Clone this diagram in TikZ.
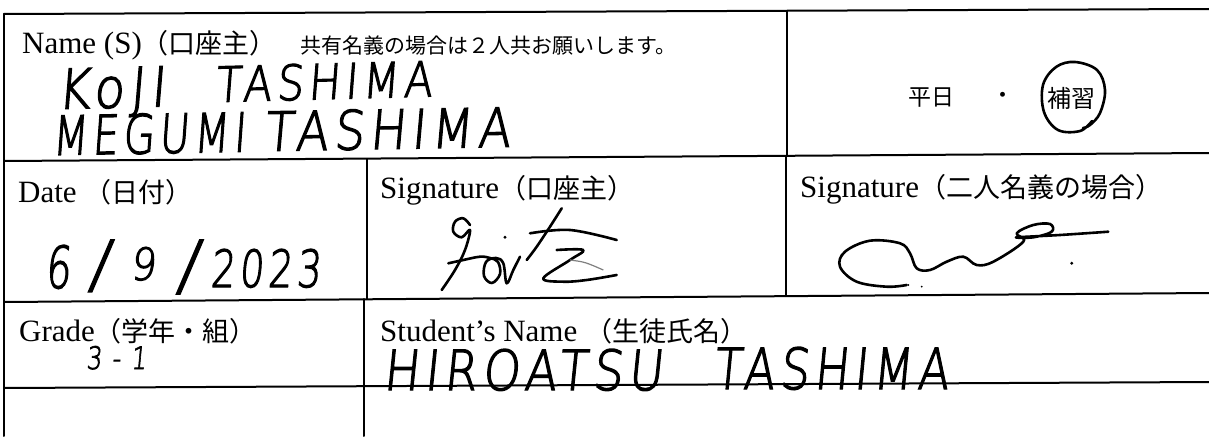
\documentclass[tikz,border=0pt]{standalone}
\usepackage{fontspec}
\usepackage{graphicx}
\setmainfont{Liberation Serif}
\newfontfamily\jp{Noto Sans CJK JP}
\newfontfamily\hand{DejaVu Sans ExtraLight}[FakeSlant=0.12, FakeBold=2.5, LetterSpace=12]
\newcommand\jpl{\jp\fontsize{27}{27}\selectfont}
\begin{document}
\begin{tikzpicture}[x=1pt,y=-1pt,
  rule/.style={line width=2pt, line cap=round},
  lbl/.style={anchor=base west, inner sep=0pt, font=\fontsize{31}{31}\selectfont},
  hw/.style={anchor=base west, inner sep=0pt},
  ink/.style={line width=2.6pt, line cap=round, line join=round}]
\useasboundingbox (0,0) rectangle (1209,436);
\fill[white] (0,0) rectangle (1209,436);
% grid
\coordinate (TL) at (4,14);   \coordinate (TR) at (1209,9);
\coordinate (AL) at (4,161);  \coordinate (AR) at (1209,153);
\coordinate (BL) at (4,302);  \coordinate (BR) at (1209,293);
\coordinate (CL) at (4,388);  \coordinate (CR) at (1209,382);
\coordinate (DL) at (4,436);
\coordinate (V1t) at (787,11);  \coordinate (V1b) at (787,156);
\coordinate (V2t) at (367,159); \coordinate (V2b) at (367,299);
\coordinate (V3t) at (786,156); \coordinate (V3b) at (786,296);
\coordinate (V4t) at (364,299); \coordinate (V4b) at (364,436);
\draw[rule] (TL) -- (TR);
\draw[rule] (AL) -- (AR);
\draw[rule] (BL) -- (BR);
\draw[rule] (CL) -- (CR);
\draw[rule] (TL) -- (DL);
\draw[rule] (V1t) -- (V1b);
\draw[rule] (V2t) -- (V2b);
\draw[rule] (V3t) -- (V3b);
\draw[rule] (V4t) -- (V4b);
% labels
\node[lbl] (namelbl) at (22,53) {Name (S){\jpl （口座主）}};
\node[lbl, font=\jp\fontsize{21}{21}\selectfont] (note) at (300,54) {共有名義の場合は２人共お願いします。};
\node[lbl] (datelbl) at (18,202) {Date {\jpl （日付）}};
\node[lbl] (siglbl) at (380,198) {Signature{\jpl （口座主）}};
\node[lbl] (sigtwolbl) at (800,197) {Signature{\jpl （二人名義の場合）}};
\node[lbl] (gradelbl) at (19,341) {Grade{\jpl （学年・組）}};
\node[lbl] (studentlbl) at (380,341) {Student's Name {\jpl （生徒氏名）}};
% right cell of first row
\node[inner sep=0pt, font=\jp\fontsize{23}{23}\selectfont] (heijitsu) at (931,98) {平日};
\node[inner sep=0pt, font=\jp\fontsize{23}{23}\selectfont] (nakaguro) at (1003,98) {・};
\node[inner sep=0pt, font=\jp\fontsize{24}{24}\selectfont] (hoshu) at (1071,98) {補習};
\draw[ink] plot[smooth, tension=0.6] coordinates {(1092,121) (1080,131) (1058,130) (1044,112) (1043,85) (1056,67) (1075,62) (1097,70) (1105,90) (1100,113) (1090,125) (1083,128)};
% handwritten entries
\node[hw, rotate=1.5] (koji) at (57,109) {\resizebox{108pt}{40pt}{\hand KoJI}};
\node[hw, rotate=1.5] (kojisur) at (215,102) {\resizebox{217pt}{36pt}{\hand TASHIMA}};
\node[hw, rotate=1] (megumi) at (52,155) {\resizebox{193pt}{40pt}{\hand MEGUMI}};
\node[hw, rotate=1] (megumisur) at (264,151) {\resizebox{246pt}{40pt}{\hand TASHIMA}};
\node[hw] (dmonth) at (45,288) {\resizebox{25pt}{43pt}{\hand 6}};
\node[hw] (dslasha) at (88,286) {\resizebox{!}{46pt}{\hand /}};
\node[hw] (dday) at (130,280) {\resizebox{25pt}{33pt}{\hand 9}};
\node[hw] (dslashb) at (176,288) {\resizebox{!}{48pt}{\hand /}};
\node[hw] (dyear) at (210,287) {\resizebox{110pt}{38pt}{\hand 2023}};
\node[hw] (grade) at (86,369) {\resizebox{60pt}{23pt}{\hand 3 - 1}};
\node[hw] (student) at (383,390) {\resizebox{279pt}{41pt}{\hand HIROATSU}};
\node[hw] (studentsur) at (713,389) {\resizebox{235pt}{42pt}{\hand TASHIMA}};
% signature 1
\draw[ink] plot[smooth, tension=0.6] coordinates {(470,225) (463.3,218.3) (455,221.7) (453.3,231.7) (461.7,237.3) (470,230) (465,250) (455,270) (441.7,290)};
\draw[ink] plot[smooth, tension=0.6] coordinates {(448.3,263.3) (463.3,260) (480,256.7) (490,258) (498,262) (500,274) (492,283) (484,276) (486,262) (496,258) (503.3,263.3) (506.7,283.3) (513.3,270) (520,256.7)};
\fill (505,237.3) circle (1.6pt);
\draw[ink] plot[smooth, tension=0.6] coordinates {(561.7,208.3) (550,226.7) (536.7,246.7) (526.7,260)};
\draw[ink] plot[smooth, tension=0.6] coordinates {(530,233.3) (570,230) (616.7,240)};
\draw[ink] plot[smooth, tension=0.6] coordinates {(556.7,250) (583.3,250) (570,260) (543.3,278.3) (563.3,281.7) (586.7,280) (616.7,275)};
\draw[line width=1.2pt, gray] (570,260) .. controls (585,262) .. (603.3,270);
% signature 2
\draw[ink] plot[smooth, tension=0.6] coordinates {(906.7,285) (886.7,286.7) (856.7,281.7) (840,266.7) (845,251.7) (870,240.7) (900,243.3) (910,253.3) (916.7,268.3) (930,270) (946.7,261.7) (963.3,256.7) (976.7,265) (993.3,261.7) (1023.3,241.7) (1016.7,233.3) (1033.3,225) (1050,224) (1051.7,231.7) (1033.3,237.3) (1016.7,237.3) (1060,235) (1108.3,231.7)};
\fill (1071.7,263.3) circle (1.6pt);
\fill (908.3,285) circle (1pt);
\fill (921.7,286.7) circle (1pt);
\end{tikzpicture}
\end{document}
